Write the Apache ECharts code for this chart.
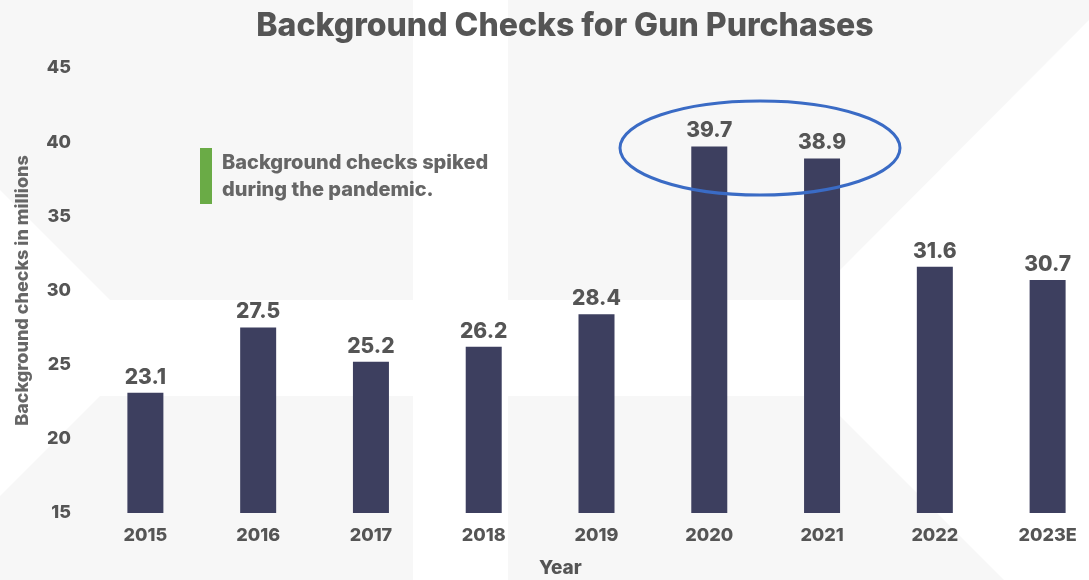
<!DOCTYPE html>
<html><head><meta charset="utf-8">
<script src="https://cdn.jsdelivr.net/npm/echarts@6/dist/echarts.min.js"></script>
<style>html,body{margin:0;padding:0;background:#fff}#c{width:1089px;height:580px}</style>
</head><body><div id="c"></div>
<script>
const categories = ['2015','2016','2017','2018','2019','2020','2021','2022','2023E'];
const checks = [23.1, 27.5, 25.2, 26.2, 28.4, 39.7, 38.9, 31.6, 30.7];
const yTicks = [15, 20, 25, 30, 35, 40, 45];

const FONT = 'Inter, "Noto Sans", sans-serif';
const BG = '#f7f7f7';
const chart = echarts.init(document.getElementById('c'), null, {renderer: 'canvas'});
chart.setOption({
  backgroundColor: '#ffffff',
  animation: false,
  title: {
    text: 'Background Checks for Gun Purchases',
    left: 560, top: 5, textAlign: 'center',
    textStyle: {fontFamily: FONT, fontWeight: 800, fontSize: 32, color: '#555555'}
  },
  grid: {left: 89, top: 68, width: 1015, height: 445, containLabel: false, outerBoundsMode: 'none'},
  xAxis: {
    type: 'category', data: categories,
    axisLine: {show: false}, axisTick: {show: false}, splitLine: {show: false},
    axisLabel: {fontFamily: FONT, fontWeight: 800, fontSize: 18, color: '#555555', margin: 14}
  },
  yAxis: {
    type: 'value', min: yTicks[0], max: yTicks[yTicks.length - 1], interval: 5,
    name: 'Background checks in millions', nameLocation: 'middle', nameGap: 57,
    nameTextStyle: {fontFamily: FONT, fontWeight: 800, fontSize: 18, color: '#666666'},
    axisLine: {show: false}, axisTick: {show: false}, splitLine: {show: false},
    axisLabel: {fontFamily: FONT, fontWeight: 800, fontSize: 18, color: '#555555', margin: 18}
  },
  graphic: [
    {type: 'polygon', z: -10, shape: {points: [[0,0],[413,0],[413,300],[110,300],[0,190]]}, style: {fill: BG}},
    {type: 'polygon', z: -10, shape: {points: [[100,396],[413,396],[413,580],[0,580],[0,496]]}, style: {fill: BG}},
    {type: 'polygon', z: -10, shape: {points: [[508,0],[1089,0],[1089,20],[810,300],[508,300]]}, style: {fill: BG}},
    {type: 'polygon', z: -10, shape: {points: [[508,396],[820,396],[1004,580],[508,580]]}, style: {fill: BG}},
    {type: 'rect', shape: {x: 200, y: 148, width: 12, height: 56}, style: {fill: '#6aab46'}},
    {type: 'text', left: 222, top: 149, style: {text: 'Background checks spiked\nduring the pandemic.', fontFamily: FONT, fontWeight: 800, fontSize: 20, lineHeight: 27, fill: '#666666'}},
    {type: 'ellipse', z: 100, shape: {cx: 760, cy: 148, rx: 140, ry: 47}, style: {fill: 'none', stroke: '#3a6bc5', lineWidth: 3}},
    {type: 'text', left: 539, top: 559, style: {text: 'Year', fontFamily: FONT, fontWeight: 800, fontSize: 19, fill: '#555555'}}
  ],
  series: [{
    type: 'bar', data: checks, barWidth: 36,
    itemStyle: {color: '#3d3f5f'},
    label: {show: true, position: 'top', distance: 5, fontFamily: FONT, fontWeight: 800, fontSize: 21, color: '#555555',
      formatter: p => p.value.toFixed(1)}
  }]
});
</script></body></html>
